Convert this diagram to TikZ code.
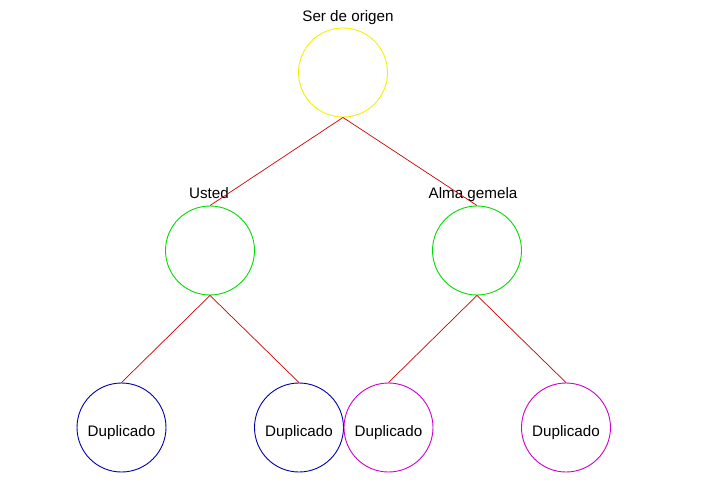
\documentclass[tikz,border=0pt]{standalone}
\usepackage{fontspec}
\setmainfont{Liberation Sans}
\usetikzlibrary{positioning}
\definecolor{tryellow}{HTML}{F2F200}
\definecolor{trgreen}{HTML}{00DD00}
\definecolor{trblue}{HTML}{0000AA}
\definecolor{trmagenta}{HTML}{CC00CC}
\definecolor{trred}{HTML}{CC0000}

\begin{document}
\begin{tikzpicture}[
  x=1pt,y=-1pt,
  every node/.style={font=\fontsize{15.2}{17}\selectfont,align=center},
  soul/.style={circle,draw,line width=0.9pt,minimum size=89pt,inner sep=0pt},
  copy/.style={soul,text height=17pt,text depth=0pt},
  tag/.style={inner sep=0pt,anchor=base},
  link/.style={line width=0.7pt,color=trred}
]
\useasboundingbox (0,0) rectangle (724,488);
\node[soul,draw=tryellow] (origin) at (343,72.5) {};
\node[soul,draw=trgreen] (you) at (210,250.5) {};
\node[soul,draw=trgreen] (twin) at (477,250.5) {};
\node[copy,draw=trblue] (dupa) at (121.5,427.5) {Duplicado};
\node[copy,draw=trblue] (dupb) at (299,427.5) {Duplicado};
\node[copy,draw=trmagenta] (dupc) at (388.5,427.5) {Duplicado};
\node[copy,draw=trmagenta] (dupd) at (566,427.5) {Duplicado};
\node[tag] (originlabel) at (348,21) {Ser de origen};
\node[tag] (youlabel) at (209,198) {Usted};
\node[tag] (twinlabel) at (473,198) {Alma gemela};
\draw[link] (origin.south) -- (you.north);
\draw[link] (origin.south) -- (twin.north);
\draw[link] (you.south) -- (dupa.north);
\draw[link] (you.south) -- (dupb.north);
\draw[link] (twin.south) -- (dupc.north);
\draw[link] (twin.south) -- (dupd.north);
\end{tikzpicture}
\end{document}
